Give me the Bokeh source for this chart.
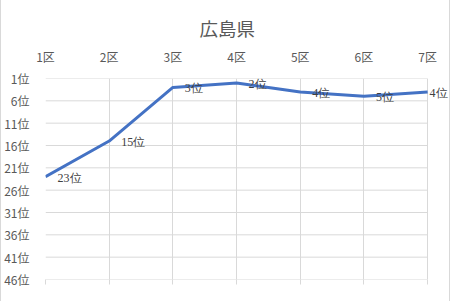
from bokeh.plotting import figure
from bokeh.models import (Range1d, FixedTicker, LinearAxis, ColumnDataSource,
                          LabelSet, CustomJSTickFormatter)
from bokeh.embed import file_html
from bokeh.resources import INLINE

title_text = "広島県"
districts = ["1区", "2区", "3区", "4区", "5区", "6区", "7区"]
ranks = [23, 15, 3, 2, 4, 5, 4]
rank_ticks = [1, 6, 11, 16, 21, 26, 31, 36, 41, 46]
rank_tick_labels = [f"{t}位" for t in rank_ticks]

FONT = "Noto Sans CJK JP"
AXIS_COLOR = "#595959"
GRID_COLOR = "#d9d9d9"
LINE_COLOR = "#4472C4"

n = len(districts)
xs = list(range(1, n + 1))
point_labels = [f"{r}位" for r in ranks]
# last label is pulled inside the chart area, as in the reference
label_dx = [12] * (n - 1) + [2]
src = ColumnDataSource(dict(x=xs, y=ranks, lab=point_labels, dx=label_dx))

# frame runs to the right edge so the last label is not clipped;
# 64 px per district, frame width 408 px
p = figure(width=450, height=301, output_backend="svg", toolbar_location=None,
           x_range=Range1d(1, 1 + 408 / 64), y_range=Range1d(46, 1),
           x_axis_location=None, y_axis_location=None,
           min_border_left=42, min_border_right=0,
           min_border_top=78, min_border_bottom=22)
p.styles = {"border-left": "1px solid #d9d9d9", "border-right": "1px solid #d9d9d9"}
p.outline_line_color = None
p.background_fill_color = "white"
p.border_fill_color = "white"

p.title.text = title_text
p.title.align = "left"
p.title.offset = 154
p.title.standoff = 7
p.title.text_font = FONT
p.title.text_font_size = "18.5px"
p.title.text_font_style = "normal"
p.title.text_color = AXIS_COLOR

# top axis with district labels
xax = LinearAxis(ticker=FixedTicker(ticks=xs),
                 major_label_overrides={i: d for i, d in zip(xs, districts)})
xax.axis_line_color = None
xax.major_tick_line_color = None
xax.minor_tick_line_color = None
xax.major_label_standoff = 8
xax.major_label_text_font = FONT
xax.major_label_text_font_size = "12px"
xax.major_label_text_color = AXIS_COLOR
p.add_layout(xax, "above")

# bottom axis: only tick marks continuing the grid
bax = LinearAxis(ticker=FixedTicker(ticks=xs),
                 formatter=CustomJSTickFormatter(code="return ''"))
bax.axis_line_color = None
bax.major_tick_line_color = GRID_COLOR
bax.major_tick_in = 0
bax.major_tick_out = 5
bax.minor_tick_line_color = None
bax.major_label_standoff = 0
bax.major_label_text_font_size = "1px"
p.add_layout(bax, "below")

# left axis with ranks
yax = LinearAxis(ticker=FixedTicker(ticks=rank_ticks),
                 major_label_overrides={t: l for t, l in zip(rank_ticks, rank_tick_labels)})
yax.axis_line_color = None
yax.major_tick_line_color = None
yax.minor_tick_line_color = None
yax.major_label_standoff = 10
yax.major_label_text_font = FONT
yax.major_label_text_font_size = "12px"
yax.major_label_text_color = AXIS_COLOR
p.add_layout(yax, "left")

p.xgrid.grid_line_color = GRID_COLOR
p.xgrid.ticker = FixedTicker(ticks=xs)
p.ygrid.grid_line_color = None
# horizontal grid lines only across the district span
p.segment(x0=[xs[0]] * len(rank_ticks), x1=[xs[-1]] * len(rank_ticks),
          y0=rank_ticks, y1=rank_ticks, line_color=GRID_COLOR, line_width=1)

p.line("x", "y", source=src, line_width=3, line_color=LINE_COLOR, line_join="round")

labels = LabelSet(x="x", y="y", text="lab", source=src, x_offset="dx", y_offset=-1,
                  text_align="left", text_baseline="middle",
                  text_font=FONT, text_font_size="12px", text_color="#404040")
p.add_layout(labels)

open("out.html", "w").write(file_html(p, INLINE))
